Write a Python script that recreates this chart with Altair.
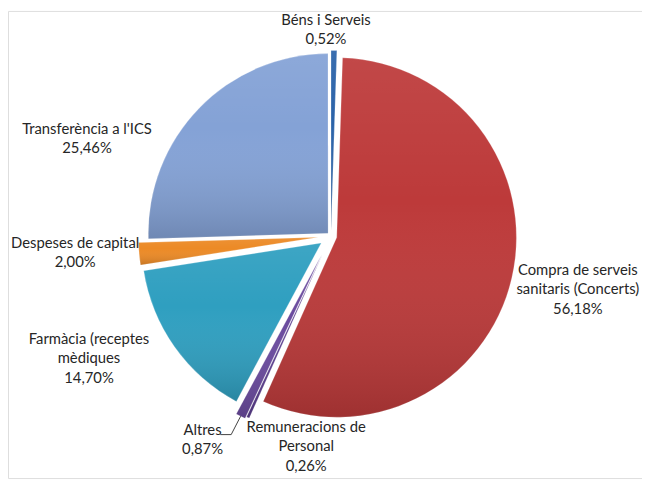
import math
import altair as alt
import pandas as pd

# ---- data ----
categories = ["Béns i Serveis", "Compra de serveis sanitaris (Concerts)",
              "Remuneracions de Personal", "Altres",
              "Farmàcia (receptes mèdiques", "Despeses de capital",
              "Transferència a l'ICS"]
values = [0.52, 56.18, 0.26, 0.87, 14.70, 2.00, 25.46]
label_text = ["Béns i Serveis", "Compra de serveis\nsanitaris (Concerts)",
              "Remuneracions de\nPersonal", "Altres",
              "Farmàcia (receptes\nmèdiques", "Despeses de capital",
              "Transferència a l'ICS"]

# ---- style / layout ----
colors = ["#2b63a9", "#bd3a3a", "#5a3c8e", "#6a4a9e", "#2f9fc0", "#ec8a26", "#84a2d6"]
explode = [6, 6, 20, 22, 12, 13, 4]
label_dx = [-5, 250, -25, -130, -245, -259, -247]
label_dy = [-209, 54, 213, 206, 124, 17, -99]
CX, CY, R = 327, 228, 182
LH = 19.5

rows = []
cum = 0.0
for cat, v, lt, col, ex, ldx, ldy in zip(categories, values, label_text, colors,
                                         explode, label_dx, label_dy):
    start, end = cum, cum + v
    cum = end
    mid = (start + end) / 2 / 100 * 2 * math.pi
    cx = CX + ex * math.sin(mid)
    cy = CY - ex * math.cos(mid)
    pct = f"{v:.2f}".replace(".", ",") + "%"
    label = lt + "\n" + pct
    nlines = label.count("\n") + 1
    rows.append(dict(cat=cat, value=v, start=start, end=end, cx=cx, cy=cy,
                     tipx=cx + R * math.sin(mid), tipy=cy - R * math.cos(mid),
                     mx=CX + ldx, my=CY + ldy,
                     lx=CX + ldx, ly=CY + ldy - (nlines - 1) * LH / 2, label=label))
df = pd.DataFrame(rows)

theta_scale = alt.Scale(domain=[0, 100], range=[0, 2 * math.pi])
base = alt.Chart(df).encode(
    x=alt.X("cx:Q", scale=None, axis=None),
    y=alt.Y("cy:Q", scale=None, axis=None),
    theta=alt.Theta("start:Q", scale=theta_scale, stack=None),
    theta2="end:Q",
)

slices = base.mark_arc(radius=R, stroke="#ffffff", strokeOpacity=0.3, strokeWidth=0.8).encode(
    color=alt.Color("cat:N", scale=alt.Scale(domain=categories, range=colors), legend=None)
)

shade = base.mark_arc(
    radius=R,
    color=alt.Gradient(
        gradient="linear", x1=0, x2=0, y1=0, y2=1,
        stops=[alt.GradientStop(color="rgba(255,255,255,0.07)", offset=0),
               alt.GradientStop(color="rgba(255,255,255,0.0)", offset=0.4),
               alt.GradientStop(color="rgba(0,0,0,0.16)", offset=1)],
    ),
)

labels = alt.Chart(df).mark_text(
    font="Lato", fontSize=15, lineBreak="\n", lineHeight=LH,
    align="center", baseline="middle", color="#262626",
).encode(
    x=alt.X("lx:Q", scale=None, axis=None),
    y=alt.Y("ly:Q", scale=None, axis=None),
    text="label:N",
)

lead = df[df["cat"] == "Altres"].copy()
lead["ex"] = lead["mx"] + 29
lead["ey"] = lead["my"] - 5
lead["hx"] = lead["mx"] + 18
leader1 = alt.Chart(lead).mark_rule(color="#404040", strokeWidth=1).encode(
    x=alt.X("tipx:Q", scale=None, axis=None), y=alt.Y("tipy:Q", scale=None, axis=None),
    x2="ex:Q", y2="ey:Q",
)
leader2 = alt.Chart(lead).mark_rule(color="#404040", strokeWidth=1).encode(
    x=alt.X("ex:Q", scale=None, axis=None), y=alt.Y("ey:Q", scale=None, axis=None),
    x2="hx:Q", y2="ey:Q",
)

chart = alt.layer(slices, shade, leader1, leader2, labels).properties(
    width=642, height=473, autosize="none", padding=0,
).configure_view(stroke=None).configure(background="#ffffff")

chart.save("out.html", embed_options={"renderer": "svg", "actions": False})
